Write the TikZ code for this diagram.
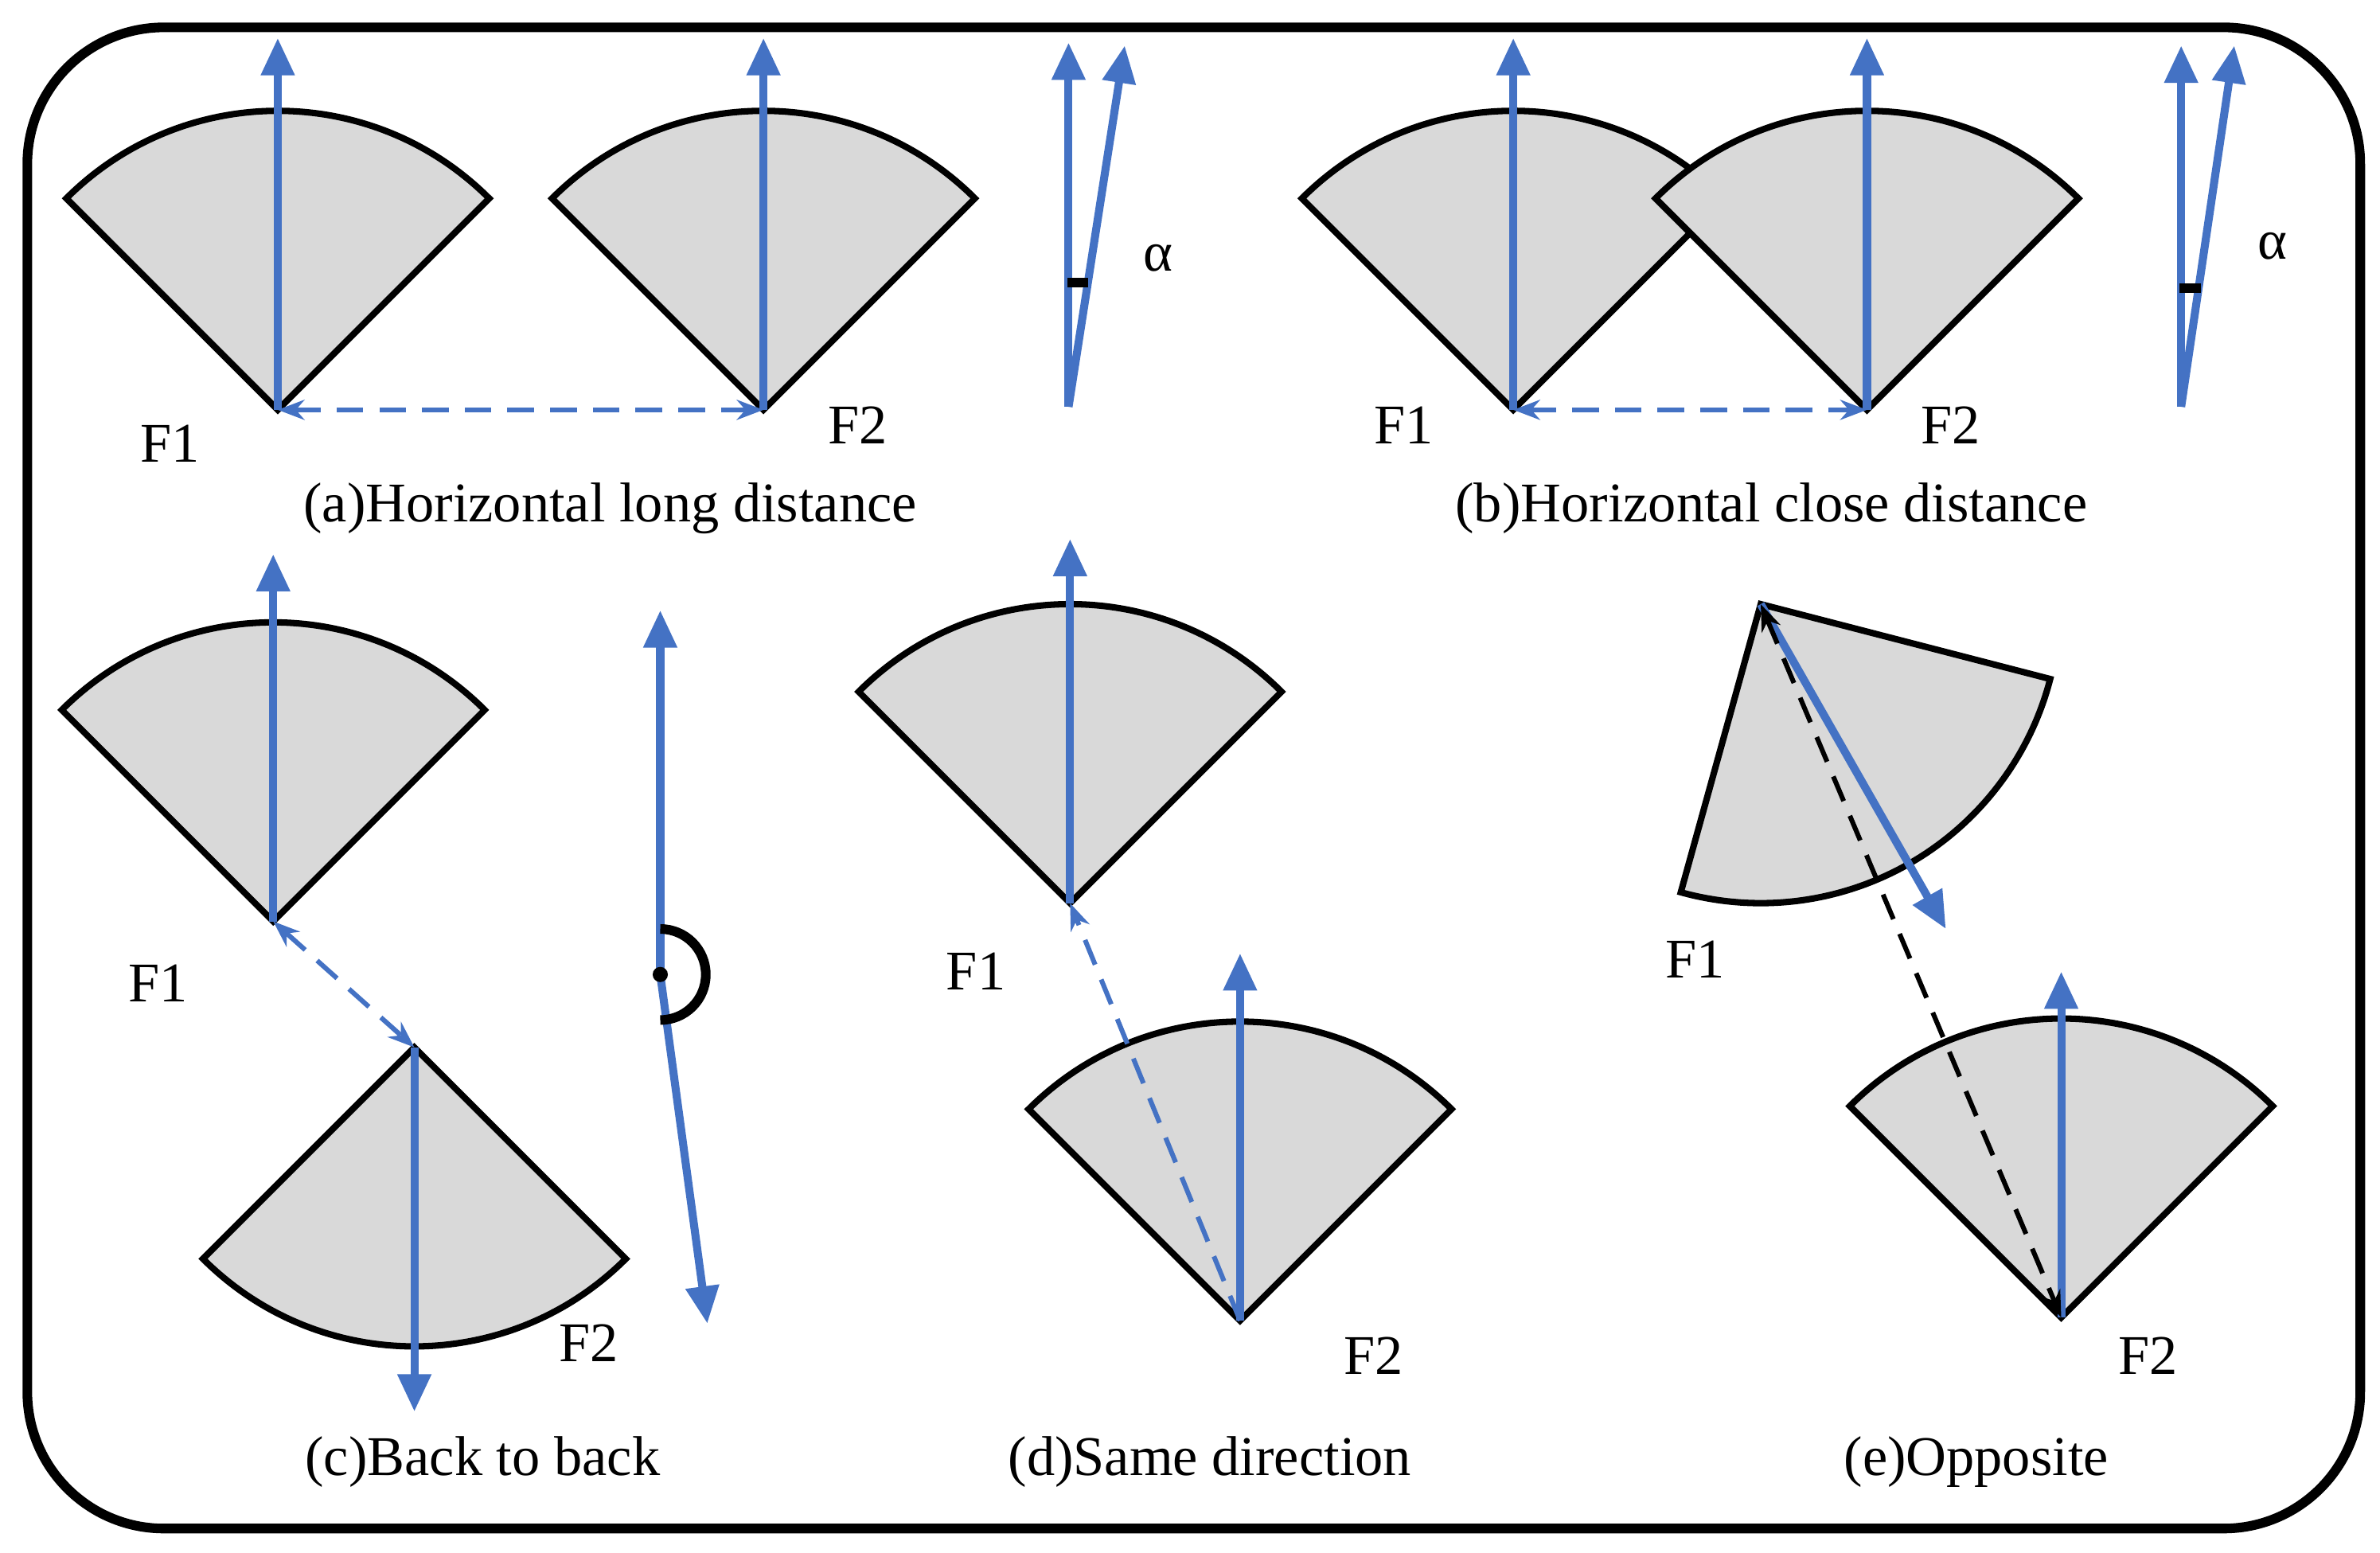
\documentclass[tikz,border=0pt]{standalone}
\usepackage{fontspec}
\setmainfont{Liberation Serif}
\usetikzlibrary{arrows.meta}
\definecolor{bl}{HTML}{4472C4}
\begin{document}
\begin{tikzpicture}[x=0.01cm,y=-0.01cm,
  sec/.style={draw=black,line width=1.2pt,fill=gray!30,line join=miter},
  ar/.style={bl,line width=1.5pt,-{Triangle[length=7pt,width=6pt]}},
  da/.style={bl,line width=0.9pt,dash pattern=on 5pt off 3pt,{Stealth[length=5pt]}-{Stealth[length=5pt]}},
  lb/.style={font=\fontsize{10.5}{12}\selectfont,inner sep=0pt}]
\useasboundingbox (0,0) rectangle (1568,1023);
\draw[line width=1.8pt,rounded corners=0.9cm] (18,18) rectangle (1555,1007);
\newcommand{\sect}[3]{\draw[sec] (#1) -- ++({#2-#3}:197) arc[start angle={#2-#3},end angle={#2+#3},radius=197] -- cycle;}
% (a)
\coordinate (a1) at (183,270); \coordinate (a2) at (503,270);
\sect{a1}{270}{45} \sect{a2}{270}{45}
\coordinate (a1t) at (183,25); \coordinate (a2t) at (503,25);
\draw[ar] (a1) -- (a1t); \draw[ar] (a2) -- (a2t);
\draw[da] (a1) -- (a2);
\node[lb] (fa1) at (112,292) {F1}; \node[lb] (fa2) at (565,280) {F2};
\coordinate (aa) at (704,268); \coordinate (aat) at (704,28); \coordinate (aat2) at (741,30);
\draw[ar] (aa) -- (aat); \draw[ar] (aa) -- (aat2);
\draw[line width=1.8pt] (703,186) -- (717,186);
\node[lb] (alA) at (763,170) {α};
\node[lb] (ca) at (402,335) {(a)Horizontal long distance};
% (b)
\coordinate (b1) at (997,270); \coordinate (b2) at (1230,270);
\sect{b1}{270}{45} \sect{b2}{270}{45}
\coordinate (b1t) at (997,25); \coordinate (b2t) at (1230,25);
\draw[ar] (b1) -- (b1t); \draw[ar] (b2) -- (b2t);
\draw[da] (b1) -- (b2);
\node[lb] (fb1) at (925,280) {F1}; \node[lb] (fb2) at (1285,280) {F2};
\coordinate (ba) at (1437,268); \coordinate (bat) at (1437,30); \coordinate (bat2) at (1472,30);
\draw[ar] (ba) -- (bat); \draw[ar] (ba) -- (bat2);
\draw[line width=1.8pt] (1436,190) -- (1450,190);
\node[lb] (alB) at (1497,162) {α};
\node[lb] (cb) at (1167,335) {(b)Horizontal close distance};
% (c)
\coordinate (c1) at (180,607); \coordinate (c2) at (273,690);
\sect{c1}{270}{45} \sect{c2}{90}{45}
\coordinate (c1t) at (180,365); \coordinate (c2t) at (273,930);
\draw[ar] (c1) -- (c1t); \draw[ar] (c2) -- (c2t);
\draw[da] (c1) -- (c2);
\node[lb] (fc1) at (104,648) {F1}; \node[lb] (fc2) at (388,885) {F2};
\coordinate (cc) at (435,642); \coordinate (cct) at (435,402); \coordinate (ccb) at (466,872);
\draw[ar] (cc) -- (cct); \draw[ar] (cc) -- (ccb);
\draw[line width=1.8pt] (435,612) arc[start angle=270,end angle=450,radius=30];
\fill (cc) circle (5);
\node[lb] (cap_c) at (318,963) {(c)Back to back};
% (d)
\coordinate (d1) at (705,595); \coordinate (d2) at (817,870);
\sect{d1}{270}{45} \sect{d2}{270}{45}
\coordinate (d1t) at (705,355); \coordinate (d2t) at (817,628);
\draw[ar] (d1) -- (d1t); \draw[ar] (d2) -- (d2t);
\draw[bl,line width=0.9pt,dash pattern=on 5pt off 3pt,-{Stealth[length=5pt]}] (d2) -- (d1);
\node[lb] (fd1) at (643,640) {F1}; \node[lb] (fd2) at (905,893) {F2};
\node[lb] (cd) at (797,963) {(d)Same direction};
% (e)
\coordinate (e1) at (1160,398); \coordinate (e2) at (1358,868);
\sect{e1}{60}{45.5} \sect{e2}{270}{45}
\coordinate (e1t) at (1282,612); \coordinate (e2t) at (1358,640);
\draw[ar] (e1) -- (e1t); \draw[ar] (e2) -- (e2t);
\draw[black,line width=0.9pt,dash pattern=on 5pt off 3pt,{Stealth[length=5pt]}-{Stealth[length=5pt]}] (e1) -- (e2);
\node[lb] (fe1) at (1117,632) {F1}; \node[lb] (fe2) at (1415,893) {F2};
\node[lb] (ce) at (1302,963) {(e)Opposite};
\end{tikzpicture}
\end{document}
